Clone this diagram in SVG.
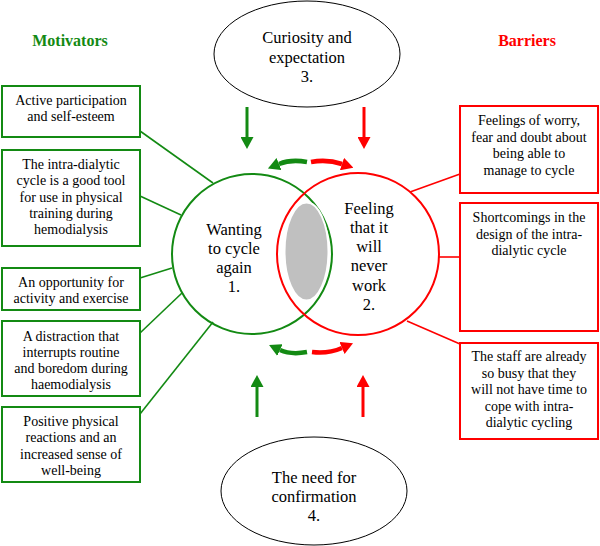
<svg xmlns="http://www.w3.org/2000/svg" width="600" height="546" viewBox="0 0 600 546">
<defs>
<marker id="hg" markerUnits="userSpaceOnUse" markerWidth="12" markerHeight="13" refX="0" refY="6.5" orient="auto" viewBox="0 0 12 13"><path d="M0,0 L12,6.5 L0,13 z" fill="#138a13"/></marker>
<marker id="hr" markerUnits="userSpaceOnUse" markerWidth="12" markerHeight="13" refX="0" refY="6.5" orient="auto" viewBox="0 0 12 13"><path d="M0,0 L12,6.5 L0,13 z" fill="#ff0000"/></marker>
</defs>
<rect width="600" height="546" fill="#fff"/>
<text font-family="Liberation Serif" font-size="16" font-weight="bold" text-anchor="middle" x="70" y="46" fill="#138a13">Motivators</text>
<text font-family="Liberation Serif" font-size="16" font-weight="bold" text-anchor="middle" x="527" y="46" fill="#ff0000">Barriers</text>

<g id="connectors" fill="none" stroke-width="1.6">
<g stroke="#138a13">
<line x1="140" y1="131" x2="213" y2="183"/>
<line x1="140" y1="196" x2="181" y2="215"/>
<line x1="140" y1="278" x2="172" y2="268"/>
<line x1="140" y1="333" x2="182" y2="293"/>
<line x1="140" y1="414" x2="213" y2="322"/>
</g>
<g stroke="#ff0000">
<line x1="460" y1="174" x2="410" y2="192"/>
<line x1="438" y1="257" x2="460" y2="257"/>
<line x1="407" y1="321" x2="460" y2="344"/>
</g>
<line stroke="#138a13" stroke-width="3" x1="247" y1="107" x2="247" y2="137" marker-end="url(#hg)"/>
<line stroke="#ff0000" stroke-width="3" x1="364" y1="107" x2="364" y2="137" marker-end="url(#hr)"/>
<line stroke="#138a13" stroke-width="3" x1="257" y1="417" x2="257" y2="387" marker-end="url(#hg)"/>
<line stroke="#ff0000" stroke-width="3" x1="363" y1="417" x2="363" y2="387" marker-end="url(#hr)"/>
<path d="M307,162 Q291,159 279,164" stroke="#138a13" stroke-width="4.5" marker-end="url(#hg)"/>
<path d="M311,162 Q327,159 342,164" stroke="#ff0000" stroke-width="4.5" marker-end="url(#hr)"/>
<path d="M307,352 Q291,355 280,350" stroke="#138a13" stroke-width="4.5" marker-end="url(#hg)"/>
<path d="M312,352 Q328,354 342,348" stroke="#ff0000" stroke-width="4.5" marker-end="url(#hr)"/>
</g>

<g id="n3">
<ellipse cx="307" cy="54" rx="93" ry="53" fill="#fff" stroke="#000"/>
<text font-family="Liberation Serif" font-size="16.5" text-anchor="middle" x="307" y="43">Curiosity and</text>
<text font-family="Liberation Serif" font-size="16.5" text-anchor="middle" x="307" y="63">expectation</text>
<text font-family="Liberation Serif" font-size="16.5" text-anchor="middle" x="307" y="82">3.</text>
</g>
<g id="n4">
<ellipse cx="314" cy="491" rx="93" ry="54" fill="#fff" stroke="#000"/>
<text font-family="Liberation Serif" font-size="16.5" text-anchor="middle" x="314" y="483">The need for</text>
<text font-family="Liberation Serif" font-size="16.5" text-anchor="middle" x="314" y="502">confirmation</text>
<text font-family="Liberation Serif" font-size="16.5" text-anchor="middle" x="314" y="521">4.</text>
</g>

<g id="n1">
<circle cx="252" cy="254" r="80" fill="none" stroke="#138a13" stroke-width="2"/>
<text font-family="Liberation Serif" font-size="16.5" text-anchor="middle" x="234" y="235">Wanting</text>
<text font-family="Liberation Serif" font-size="16.5" text-anchor="middle" x="234" y="254">to cycle</text>
<text font-family="Liberation Serif" font-size="16.5" text-anchor="middle" x="234" y="273">again</text>
<text font-family="Liberation Serif" font-size="16.5" text-anchor="middle" x="234" y="292">1.</text>
</g>
<g id="n2">
<circle cx="358" cy="254" r="81" fill="none" stroke="#ff0000" stroke-width="2"/>
<text font-family="Liberation Serif" font-size="16.5" text-anchor="middle" x="369" y="214">Feeling</text>
<text font-family="Liberation Serif" font-size="16.5" text-anchor="middle" x="369" y="233">that it</text>
<text font-family="Liberation Serif" font-size="16.5" text-anchor="middle" x="369" y="252">will</text>
<text font-family="Liberation Serif" font-size="16.5" text-anchor="middle" x="369" y="271">never</text>
<text font-family="Liberation Serif" font-size="16.5" text-anchor="middle" x="369" y="291">work</text>
<text font-family="Liberation Serif" font-size="16.5" text-anchor="middle" x="369" y="310">2.</text>
</g>
<g id="overlap">
<ellipse cx="306.5" cy="251.5" rx="22" ry="49" fill="#c0c0c0" stroke="#fff" stroke-width="2"/>
</g>

<g id="m1">
<rect x="2" y="86" width="138" height="51" fill="#fff" stroke="#138a13" stroke-width="2"/>
<text font-family="Liberation Serif" font-size="14" text-anchor="middle" x="71" y="105">Active participation</text>
<text font-family="Liberation Serif" font-size="14" text-anchor="middle" x="71" y="121">and self-esteem</text>
</g>
<g id="m2">
<rect x="2" y="150" width="138" height="96" fill="#fff" stroke="#138a13" stroke-width="2"/>
<text font-family="Liberation Serif" font-size="14" text-anchor="middle" x="71" y="169">The intra-dialytic</text>
<text font-family="Liberation Serif" font-size="14" text-anchor="middle" x="71" y="185.3">cycle is a good tool</text>
<text font-family="Liberation Serif" font-size="14" text-anchor="middle" x="71" y="201.6">for use in physical</text>
<text font-family="Liberation Serif" font-size="14" text-anchor="middle" x="71" y="217.9">training during</text>
<text font-family="Liberation Serif" font-size="14" text-anchor="middle" x="71" y="234.2">hemodialysis</text>
</g>
<g id="m3">
<rect x="2" y="268" width="138" height="42" fill="#fff" stroke="#138a13" stroke-width="2"/>
<text font-family="Liberation Serif" font-size="14" text-anchor="middle" x="71" y="287">An opportunity for</text>
<text font-family="Liberation Serif" font-size="14" text-anchor="middle" x="71" y="303">activity and exercise</text>
</g>
<g id="m4">
<rect x="2" y="321" width="138" height="75" fill="#fff" stroke="#138a13" stroke-width="2"/>
<text font-family="Liberation Serif" font-size="14" text-anchor="middle" x="71" y="341">A distraction that</text>
<text font-family="Liberation Serif" font-size="14" text-anchor="middle" x="71" y="357">interrupts routine</text>
<text font-family="Liberation Serif" font-size="14" text-anchor="middle" x="71" y="373">and boredom during</text>
<text font-family="Liberation Serif" font-size="14" text-anchor="middle" x="71" y="389">haemodialysis</text>
</g>
<g id="m5">
<rect x="2" y="407" width="138" height="75" fill="#fff" stroke="#138a13" stroke-width="2"/>
<text font-family="Liberation Serif" font-size="14" text-anchor="middle" x="71" y="426">Positive physical</text>
<text font-family="Liberation Serif" font-size="14" text-anchor="middle" x="71" y="442.3">reactions and an</text>
<text font-family="Liberation Serif" font-size="14" text-anchor="middle" x="71" y="458.6">increased sense of</text>
<text font-family="Liberation Serif" font-size="14" text-anchor="middle" x="71" y="474.9">well-being</text>
</g>

<g id="b1">
<rect x="460" y="106" width="138" height="87" fill="#fff" stroke="#ff0000" stroke-width="2"/>
<text font-family="Liberation Serif" font-size="14" text-anchor="middle" x="529" y="125">Feelings of worry,</text>
<text font-family="Liberation Serif" font-size="14" text-anchor="middle" x="529" y="141.5">fear and doubt about</text>
<text font-family="Liberation Serif" font-size="14" text-anchor="middle" x="529" y="158">being able to</text>
<text font-family="Liberation Serif" font-size="14" text-anchor="middle" x="529" y="174.5">manage to cycle</text>
</g>
<g id="b2">
<rect x="460" y="203" width="138" height="128" fill="#fff" stroke="#ff0000" stroke-width="2"/>
<text font-family="Liberation Serif" font-size="14" text-anchor="middle" x="529" y="222">Shortcomings in the</text>
<text font-family="Liberation Serif" font-size="14" text-anchor="middle" x="529" y="239">design of the intra-</text>
<text font-family="Liberation Serif" font-size="14" text-anchor="middle" x="529" y="255">dialytic cycle</text>
</g>
<g id="b3">
<rect x="460" y="343" width="138" height="96" fill="#fff" stroke="#ff0000" stroke-width="2"/>
<text font-family="Liberation Serif" font-size="14" text-anchor="middle" x="529" y="361">The staff are already</text>
<text font-family="Liberation Serif" font-size="14" text-anchor="middle" x="529" y="377.6">so busy that they</text>
<text font-family="Liberation Serif" font-size="14" text-anchor="middle" x="529" y="394.2">will not have time to</text>
<text font-family="Liberation Serif" font-size="14" text-anchor="middle" x="529" y="410.8">cope with intra-</text>
<text font-family="Liberation Serif" font-size="14" text-anchor="middle" x="529" y="427.4">dialytic cycling</text>
</g>
</svg>
